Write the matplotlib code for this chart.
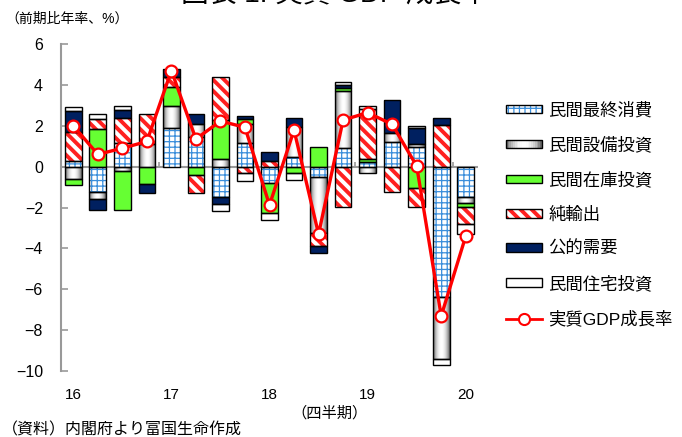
#! /usr/bin/env python3

"""Real GDP growth with demand-side contributions (stacked bars + line)"""

import numpy as np
import matplotlib
matplotlib.use("Agg")
import matplotlib.pyplot as plt
from matplotlib.patches import Patch, Rectangle
from matplotlib.lines import Line2D
from matplotlib.colors import LinearSegmentedColormap
from matplotlib.legend_handler import HandlerBase

plt.rcParams['font.family'] = ['Liberation Sans', 'Noto Sans CJK JP']
plt.rcParams['hatch.linewidth'] = 1.0

# quarterly data, 2016Q1 .. 2020Q1 (contributions, % annualised q/q)
quarters = ['16Q1', '16Q2', '16Q3', '16Q4', '17Q1', '17Q2', '17Q3', '17Q4',
            '18Q1', '18Q2', '18Q3', '18Q4', '19Q1', '19Q2', '19Q3', '19Q4', '20Q1']
year_labels = ['16', '17', '18', '19', '20']

consumption = [0.29, -1.22, 1.17, 0.00, 1.87, 1.46, -1.47, 1.14, -0.81, 0.48,
               -0.49, 0.90, 0.24, 1.22, 0.97, -6.39, -1.50]
capex = [-0.62, -0.34, -0.20, 1.10, 1.11, 0.62, 0.36, 0.93, 0.00, 1.47,
         -2.75, 2.80, -0.33, 0.44, 0.12, -3.03, -0.29]
inventory = [-0.28, 1.84, -1.92, -0.87, 0.90, -0.41, 1.92, 0.26, -1.47, -0.33,
             0.97, 0.13, 0.12, 0.00, -1.06, 0.00, -0.20]
net_exports = [1.39, 0.48, 1.19, 1.49, 0.50, -0.90, 2.09, -0.33, 0.27, 0.00,
               -0.62, -1.96, 2.46, -1.23, -0.90, 2.04, -0.82]
public = [1.06, -0.57, 0.41, -0.44, 0.40, 0.49, -0.36, 0.16, 0.43, 0.41,
          -0.37, 0.16, 0.00, 1.60, 0.78, 0.33, 0.00]
housing = [0.17, 0.24, 0.21, 0.00, 0.00, 0.00, -0.33, -0.36, -0.33, -0.30,
           0.00, 0.16, 0.16, 0.00, 0.13, -0.28, -0.49]
gdp = [2.00, 0.60, 0.90, 1.23, 4.70, 1.35, 2.23, 1.92, -1.88, 1.79,
       -3.30, 2.28, 2.64, 2.07, 0.03, -7.31, -3.40]

series_names = ['民間最終消費', '民間設備投資', '民間在庫投資', '純輸出', '公的需要', '民間住宅投資']
line_name = '実質GDP成長率'

# styles: (facecolor, hatch, hatch colour, hatch linewidth)
styles = [
    ('white', '+++', '#3a8edb', 0.9),
    ('#a8a8a8', None, '#a8a8a8', None),
    ('#66ff33', None, '#66ff33', None),
    ('white', '\\\\\\', '#ff2020', 2.8),
    ('#002060', None, '#002060', None),
    ('white', None, 'white', None),
]

gray_cmap = LinearSegmentedColormap.from_list('cyl', ['#4a4a4a', '#ffffff'])
gradient = np.sin(np.linspace(0, np.pi, 64)) ** 0.7
gradient = gradient.reshape(1, -1)


def with_hatch_lw(artist, lw):
    # hatch line width is a global setting, so apply it only while this artist draws
    orig = artist.draw

    def draw(renderer):
        with plt.rc_context({'hatch.linewidth': lw}):
            orig(renderer)
    artist.draw = draw
    try:
        artist.set_hatch_linewidth(lw)
    except AttributeError:
        pass


class GradientHandler(HandlerBase):
    # legend key drawn as vertical strips to mimic the cylinder shading
    def create_artists(self, legend, orig_handle, xdescent, ydescent,
                       width, height, fontsize, trans):
        arts = []
        k = 20
        for j in range(k):
            t = (j + 0.5) / k
            c = gray_cmap(np.sin(np.pi * t) ** 0.7)
            arts.append(Rectangle((-xdescent + width * j / k, -ydescent), width / k + 0.3,
                                  height, facecolor=c, edgecolor='none', transform=trans))
        arts.append(Rectangle((-xdescent, -ydescent), width, height, fill=False,
                              edgecolor='black', linewidth=1.0, transform=trans))
        return arts


class HatchHandler(HandlerBase):
    # legend key with a hatch in its own colour and a black border
    def create_artists(self, legend, orig_handle, xdescent, ydescent,
                       width, height, fontsize, trans):
        face, hatch, hcol, hlw = orig_handle.style
        r = Rectangle((-xdescent, -ydescent), width, height, facecolor=face,
                      edgecolor=hcol, hatch=hatch, linewidth=0, transform=trans)
        with_hatch_lw(r, hlw)
        b = Rectangle((-xdescent, -ydescent), width, height, fill=False,
                      edgecolor='black', linewidth=1.0, transform=trans)
        return [r, b]


def main():
    fig = plt.figure(figsize=(6.82, 4.37), dpi=100)
    ax = fig.add_axes([61 / 682, 1 - 371 / 437, 417 / 682, 327 / 437])

    n = len(gdp)
    x = np.arange(n)
    width = 0.68
    pos_base = np.zeros(n)
    neg_base = np.zeros(n)
    data = [consumption, capex, inventory, net_exports, public, housing]

    for i, (vals, (face, hatch, hcol, hlw)) in enumerate(zip(data, styles)):
        vals = np.array(vals, dtype=float)
        bottoms = np.where(vals >= 0, pos_base, neg_base)
        nz = vals != 0
        fill = ax.bar(x[nz], vals[nz], width, bottom=bottoms[nz], color=face,
                      hatch=hatch, edgecolor=hcol, linewidth=0, zorder=2)
        if hatch is not None:
            for r in fill:
                with_hatch_lw(r, hlw)
        if i == 1:
            # cylinder-like gradient for capex
            for r in fill:
                x0, y0 = r.get_x(), r.get_y()
                w, h = r.get_width(), r.get_height()
                im = ax.imshow(gradient, extent=(x0, x0 + w, y0, y0 + h),
                               aspect='auto', cmap=gray_cmap, vmin=0, vmax=1,
                               interpolation='bilinear', zorder=2.2)
                im.set_clip_path(r)
        ax.bar(x[nz], vals[nz], width, bottom=bottoms[nz], fill=False,
               edgecolor='black', linewidth=1.0, zorder=3)
        pos_base += np.where(vals > 0, vals, 0)
        neg_base += np.where(vals < 0, vals, 0)

    ax.plot(x, gdp, color='#ff0000', linewidth=2.4, marker='o', markersize=8.5,
            markerfacecolor='white', markeredgecolor='#ff0000',
            markeredgewidth=1.6, zorder=5)

    ax.axhline(0, color='#999999', linewidth=1.5, zorder=1)
    # small marks on the zero line at year boundaries
    bounds = np.arange(3.5, n - 1, 4)
    ax.vlines(bounds, 0, 0.25, color='#999999', linewidth=1.2, zorder=1)

    ax.set_xlim(-0.5, n - 0.5)
    ax.set_ylim(-10, 6)
    ax.set_yticks(np.arange(-10, 7, 2))
    ax.set_xticks(np.arange(0, n, 4))
    ax.set_xticklabels(year_labels)

    for side in ['top', 'right', 'bottom']:
        ax.spines[side].set_visible(False)
    ax.spines['left'].set_color('#999999')
    ax.spines['left'].set_linewidth(1.5)
    ax.tick_params(axis='y', direction='in', length=5, width=1.2,
                   color='#999999', labelsize=11.5, pad=13)
    ax.tick_params(axis='x', length=0, labelsize=11, pad=12)

    # legend
    handles = []
    handler_map = {}
    for i, st in enumerate(styles):
        face, hatch, hcol, hlw = st
        h = Patch(facecolor=face, edgecolor='black', linewidth=1.0)
        if hatch is not None:
            h.style = st
            handler_map[h] = HatchHandler()
        elif i == 1:
            handler_map[h] = GradientHandler()
        handles.append(h)
    handles.append(Line2D([], [], color='#ff0000', linewidth=2.0, marker='o',
                          markersize=8, markerfacecolor='white',
                          markeredgecolor='#ff0000', markeredgewidth=1.5))
    labels = series_names + [line_name]
    fig.legend(handles, labels, loc='upper left', handler_map=handler_map,
               bbox_to_anchor=(497 / 682, 1 - 93 / 437), frameon=False,
               fontsize=12.5, handlelength=2.1, handleheight=0.4,
               handletextpad=0.35, labelspacing=1.05, borderpad=0)

    # texts
    fig.text(335 / 682, 1 - 8 / 437, '図表 1: 実質 GDP 成長率', fontsize=20,
             ha='center', va='bottom')
    fig.text(5 / 682, 1 - 19 / 437, '（前期比年率、%）', fontsize=10, va='center')
    fig.text(330 / 682, 1 - 413 / 437, '（四半期）', fontsize=11, ha='center', va='center')
    fig.text(2 / 682, 1 - 430 / 437, '（資料）内閣府より富国生命作成', fontsize=11.5, va='center')

    fig.savefig('out.png', dpi=100)


if __name__ == "__main__":
    main()
